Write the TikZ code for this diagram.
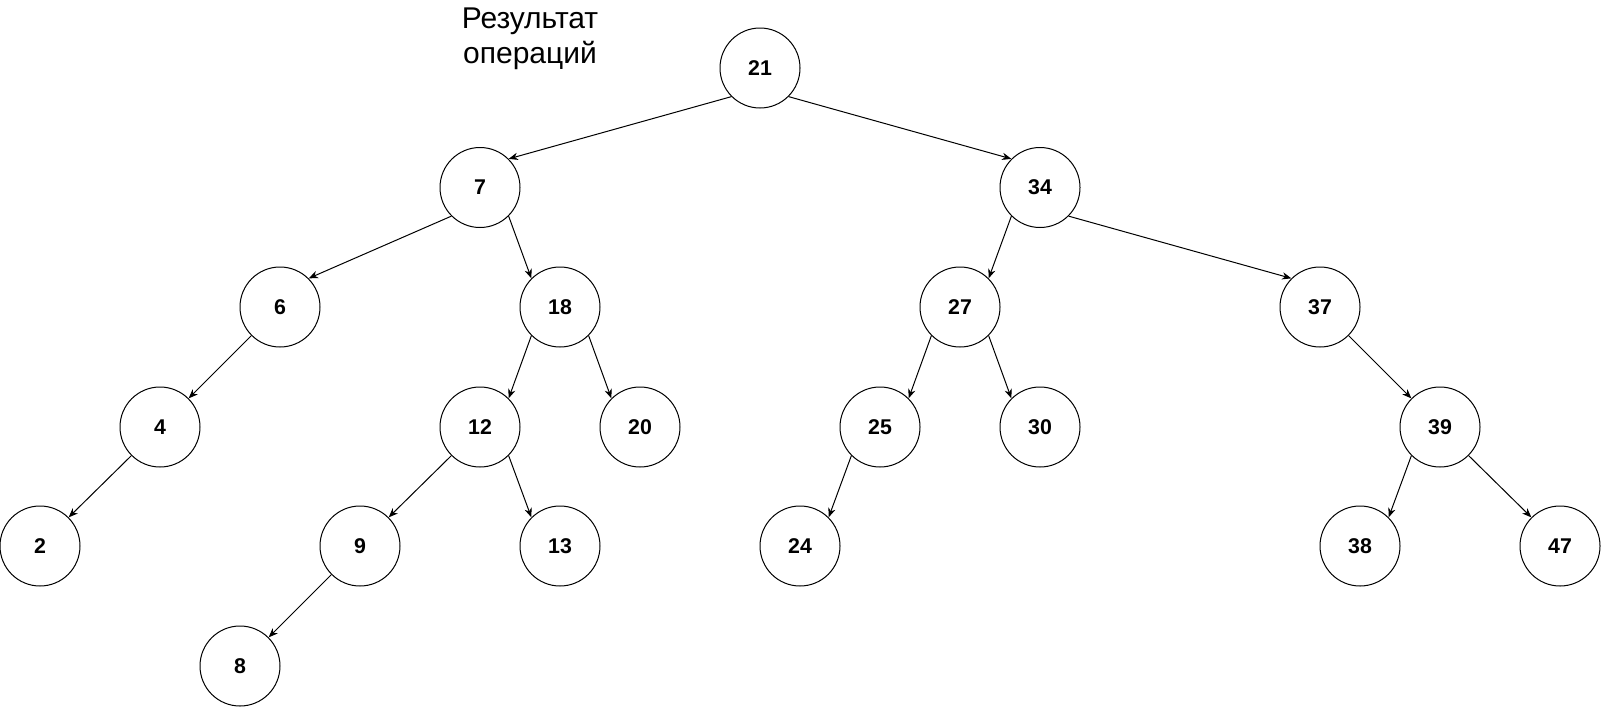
\documentclass[tikz,border=0pt]{standalone}
\usepackage{fontspec}
\setmainfont{Liberation Sans}
\usetikzlibrary{arrows.meta}
\begin{document}
\begin{tikzpicture}[x=0.75pt,y=-0.75pt,
  vert/.style={circle,draw=black,line width=0.75pt,minimum size=60pt,inner sep=0pt,
    font=\bfseries\fontsize{16}{19}\selectfont},
  edge/.style={line width=0.75pt,-{Stealth[length=7pt,width=5.5pt,inset=2.2pt]}},
  lbl/.style={inner sep=0pt,align=center,font=\fontsize{22.5}{26}\selectfont}]
\useasboundingbox (0,0) rectangle (1601,707);
\node[lbl] (title) at (530,38.5) {Результат\\операций};
\node[vert] (n21) at (760,68) {21};
\node[vert] (n7) at (480,187.5) {7};
\node[vert] (n34) at (1040,187.5) {34};
\node[vert] (n6) at (280,307) {6};
\node[vert] (n18) at (560,307) {18};
\node[vert] (n27) at (960,307) {27};
\node[vert] (n37) at (1320,307) {37};
\node[vert] (n4) at (160,427) {4};
\node[vert] (n12) at (480,427) {12};
\node[vert] (n20) at (640,427) {20};
\node[vert] (n25) at (880,427) {25};
\node[vert] (n30) at (1040,427) {30};
\node[vert] (n39) at (1440,427) {39};
\node[vert] (n2) at (40,546) {2};
\node[vert] (n9) at (360,546) {9};
\node[vert] (n13) at (560,546) {13};
\node[vert] (n24) at (800,546) {24};
\node[vert] (n38) at (1360,546) {38};
\node[vert] (n47) at (1560,546) {47};
\node[vert] (n8) at (240,666) {8};
\foreach \p/\c in {n21/n7,n7/n6,n34/n27,n6/n4,n18/n12,n27/n25,n4/n2,n12/n9,n25/n24,n39/n38,n9/n8}
  \draw[edge] (\p.south west) -- (\c.north east);
\foreach \p/\c in {n21/n34,n7/n18,n34/n37,n18/n20,n27/n30,n37/n39,n12/n13,n39/n47}
  \draw[edge] (\p.south east) -- (\c.north west);
\end{tikzpicture}
\end{document}
